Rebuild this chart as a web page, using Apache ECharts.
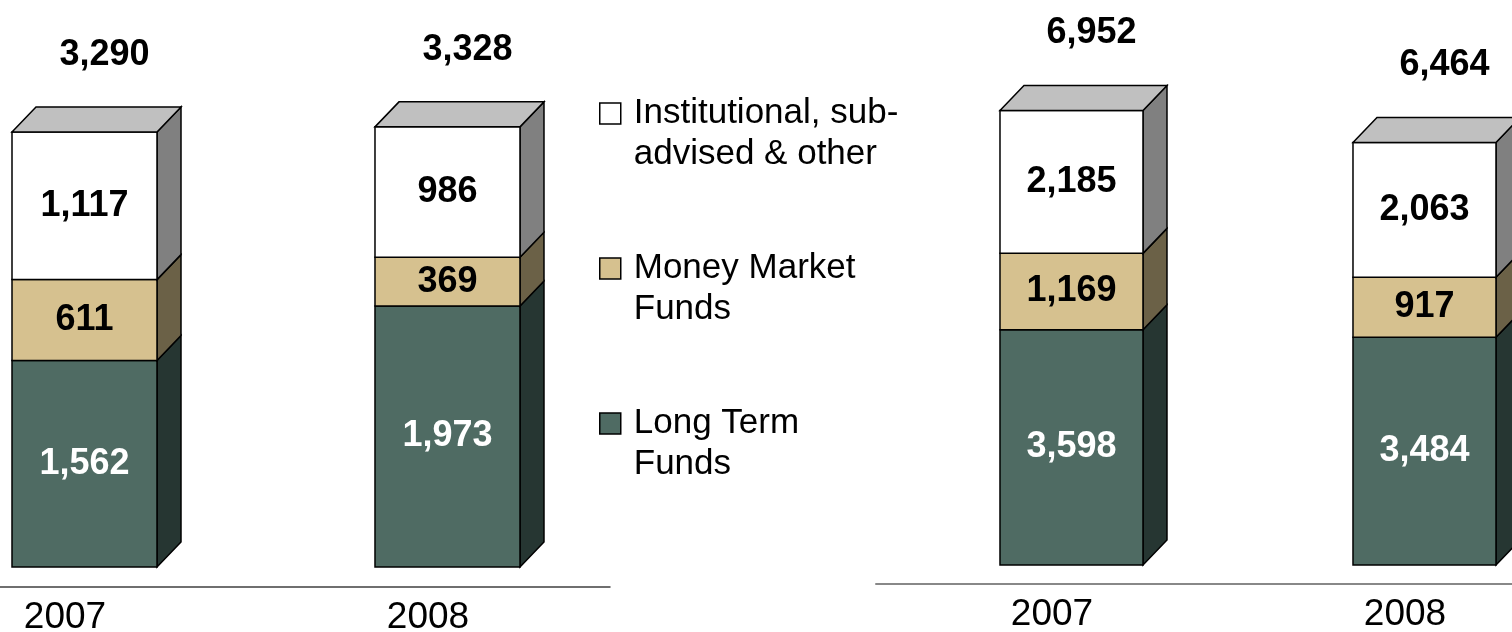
<!DOCTYPE html>
<html>
<head>
<meta charset="utf-8">
<script src="https://cdn.jsdelivr.net/npm/echarts@6/dist/echarts.min.js"></script>
<style>
  html, body { margin: 0; padding: 0; background: #fff; }
  #chart { width: 1512px; height: 632px; }
</style>
</head>
<body>
<div id="chart"></div>
<script>
// data
const years = ['2007', '2008'];
const layerNames = ['Long Term\nFunds', 'Money Market\nFunds', 'Institutional, sub-\nadvised & other'];

// left panel
const leftLongTerm = [1562, 1973];
const leftMoneyMarket = [611, 369];
const leftInstitutional = [1117, 986];

// right panel
const rightLongTerm = [3598, 3484];
const rightMoneyMarket = [1169, 917];
const rightInstitutional = [2185, 2063];

const FONT = '"Liberation Sans", Arial, sans-serif';
const DX = 24, DY = 25;

const colors = [
  { front: '#4f6b63', side: '#263632', top: '#c0c0c0', text: '#fff' },
  { front: '#d6c18f', side: '#6b6147', top: '#c0c0c0', text: '#000' },
  { front: '#ffffff', side: '#808080', top: '#c0c0c0', text: '#000' }
];

const fmt = (v) => v.toLocaleString('en-US');

function makeRender(layer, isTop, barW) {
  const c = colors[layer];
  return function (params, api) {
    const x = api.value(0), base = api.value(1), v = api.value(2), total = api.value(3);
    const p0 = api.coord([x, base]);
    const p1 = api.coord([x, base + v]);
    const cx = p0[0], l = cx - barW / 2, r = cx + barW / 2;
    const yb = p0[1], yt = p1[1];
    const stroke = { stroke: '#000', lineWidth: 1.5, lineJoin: 'miter' };
    const children = [
      { type: 'polygon', shape: { points: [[r, yb], [r + DX, yb - DY], [r + DX, yt - DY], [r, yt]] },
        style: Object.assign({ fill: c.side }, stroke) },
      { type: 'rect', shape: { x: l, y: yt, width: barW, height: yb - yt },
        style: Object.assign({ fill: c.front }, stroke) },
      { type: 'text', style: { text: fmt(v), x: cx, y: (yt + yb) / 2, align: 'center', verticalAlign: 'middle',
        fill: c.text, fontSize: 36, fontWeight: 'bold', fontFamily: FONT } }
    ];
    if (isTop) {
      children.push({ type: 'polygon', shape: { points: [[l, yt], [r, yt], [r + DX, yt - DY], [l + DX, yt - DY]] },
        style: Object.assign({ fill: c.top }, stroke) });
      children.push({ type: 'text', style: { text: fmt(total), x: cx + 20, y: yt - DY - 52, align: 'center',
        verticalAlign: 'middle', fill: '#000', fontSize: 36, fontWeight: 'bold', fontFamily: FONT } });
    }
    return { type: 'group', children: children };
  };
}

function panelSeries(layers, axisIndex, barW) {
  const totals = years.map((y, i) => layers.reduce((s, a) => s + a[i], 0));
  return layers.map((arr, k) => ({
    name: layerNames[k],
    type: 'custom',
    xAxisIndex: axisIndex,
    yAxisIndex: axisIndex,
    clip: false,
    itemStyle: { color: colors[k].front, borderColor: '#000', borderWidth: 1.5 },
    renderItem: makeRender(k, k === layers.length - 1, barW),
    data: years.map((y, i) => {
      let base = 0;
      for (let j = 0; j < k; j++) base += layers[j][i];
      return [i, base, arr[i], totals[i]];
    })
  }));
}

function catAxis(grid, min, max, offset, lineColor, lineWidth) {
  return {
    gridIndex: grid,
    type: 'value',
    min: min,
    max: max,
    offset: offset,
    splitLine: { show: false },
    axisTick: { show: false },
    axisLine: { show: true, onZero: false, lineStyle: { color: lineColor, width: lineWidth } },
    axisLabel: {
      customValues: [0, 1],
      formatter: (v) => years[Math.round(v)],
      fontSize: 37,
      fontFamily: FONT,
      color: '#000',
      margin: 12,
      padding: [0, 39, 0, 0]
    }
  };
}

const chart = echarts.init(document.getElementById('chart'));
chart.setOption({
  animation: false,
  grid: [
    { left: 0, width: 610, top: 38, bottom: 65, outerBoundsMode: 'none' },
    { left: 876, right: 0, top: 42, bottom: 67, outerBoundsMode: 'none' }
  ],
  xAxis: [
    catAxis(0, -0.2328, 1.4477, 20, '#404040', 1.5),
    catAxis(1, -0.5538, 1.2479, 19, '#888888', 2)
  ],
  yAxis: [
    { gridIndex: 0, type: 'value', min: 0, max: 4000, show: false },
    { gridIndex: 1, type: 'value', min: 0, max: 8000, show: false }
  ],
  legend: {
    orient: 'vertical',
    left: 599,
    top: 52,
    padding: 0,
    itemWidth: 21,
    itemHeight: 21,
    itemGap: 32,
    icon: 'rect',
    selectedMode: false,
    data: layerNames.slice().reverse(),
    formatter: (name) => '\n' + name,
    itemStyle: { borderColor: '#000', borderWidth: 1.5 },
    textStyle: { fontSize: 35, lineHeight: 41, fontFamily: FONT, color: '#000', padding: [0, 0, 0, 8] }
  },
  series: panelSeries([leftLongTerm, leftMoneyMarket, leftInstitutional], 0, 145)
    .concat(panelSeries([rightLongTerm, rightMoneyMarket, rightInstitutional], 1, 143))
});
</script>
</body>
</html>
